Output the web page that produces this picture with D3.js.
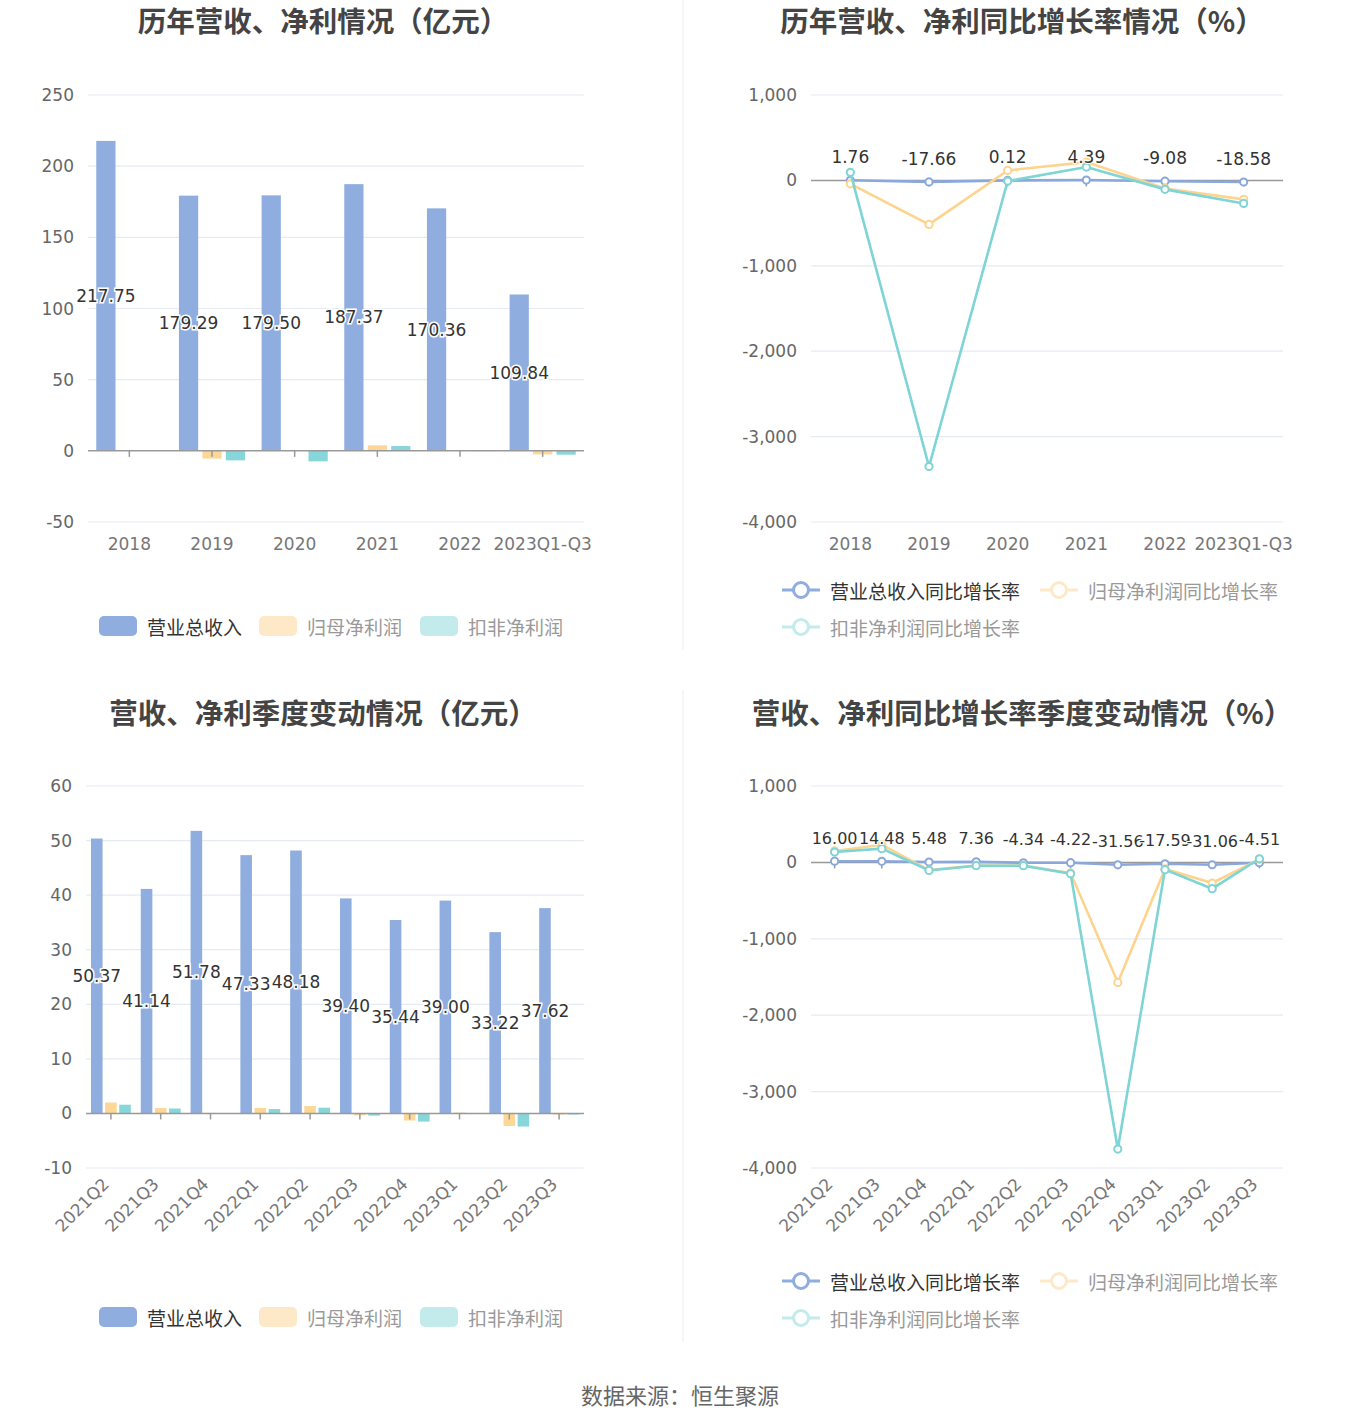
<!DOCTYPE html>
<html><head><meta charset="utf-8">
<script src="https://cdn.jsdelivr.net/npm/d3@7/dist/d3.min.js"></script>
<style>
html,body{margin:0;padding:0;background:#fff;}
text{font-family:"DejaVu Sans","Noto Sans CJK SC",sans-serif;}
text.cjk{font-family:"Noto Sans CJK SC","Noto Sans",sans-serif;}
</style></head>
<body>
<svg id="c" width="1360" height="1425"></svg>
<script>
// ---------- DATA ----------
const years = ['2018','2019','2020','2021','2022','2023Q1-Q3'];
const yearRevenue = [217.75,179.29,179.50,187.37,170.36,109.84];
const yearNetProfit = [0.5,-5.4,0.4,3.9,0.25,-2.5];
const yearDeductProfit = [0.2,-6.7,-7.4,3.4,-0.15,-2.7];

const yearRevGrowth = [1.76,-17.66,0.12,4.39,-9.08,-18.58];
const yearNetGrowth = [-40,-515,117,214,-94,-222];
const yearDeductGrowth = [94,-3350,-8,156,-105,-270];

const quarters = ['2021Q2','2021Q3','2021Q4','2022Q1','2022Q2','2022Q3','2022Q4','2023Q1','2023Q2','2023Q3'];
const qRevenue = [50.37,41.14,51.78,47.33,48.18,39.40,35.44,39.00,33.22,37.62];
const qNetProfit = [2.0,1.0,0.1,1.0,1.35,-0.35,-1.3,0.15,-2.3,-0.2];
const qDeductProfit = [1.6,0.9,0.04,0.8,1.05,-0.4,-1.5,0.05,-2.4,-0.2];

const qRevGrowth = [16.00,14.48,5.48,7.36,-4.34,-4.22,-31.56,-17.59,-31.06,-4.51];
const qNetGrowth = [150,230,-100,-40,-40,-140,-1571,-85,-270,40];
const qDeductGrowth = [136,180,-105,-43,-43,-148,-3752,-95,-344,48];

const barTicks = [-50,0,50,100,150,200,250];
const qBarTicks = [-10,0,10,20,30,40,50,60];
const growthTicks = [-4000,-3000,-2000,-1000,0,1000];

const barNames = ['营业总收入','归母净利润','扣非净利润'];
const lineNames = ['营业总收入同比增长率','归母净利润同比增长率','扣非净利润同比增长率'];
const colors = ['#8fadde','#fdd795','#87d6d9'];
const lineColors = ['#8aa8dc','#fdd48e','#7fd4d6'];
const fadedColors = ['#8fadde','#fde9c8','#c3ebec'];

// ---------- DRAW ----------
const svg = d3.select('#c');
const loc = d3.formatLocale({decimal:'.',thousands:',',grouping:[3],currency:['',''],minus:'-'});
const fmtComma = loc.format(',');
const fmtInt = loc.format('d');
const fmt2 = loc.format('.2f');

function title(txt, cx, cy){
  svg.append('text').attr('class','cjk').attr('x',cx).attr('y',cy).attr('text-anchor','middle')
    .attr('dominant-baseline','central').attr('font-size',28.5).attr('font-weight','bold')
    .attr('fill','#444').text(txt);
}

function yAxisGrid(g, y, ticks, x0, x1, fmt, labelX){
  ticks.forEach(t=>{
    if(t!==0){
      g.append('line').attr('x1',x0).attr('x2',x1).attr('y1',y(t)).attr('y2',y(t))
        .attr('stroke','#e6eaf3').attr('stroke-width',1.2);
    }
    g.append('text').attr('x',labelX).attr('y',y(t)).attr('text-anchor','end')
      .attr('dominant-baseline','central').attr('font-size',17).attr('fill','#666').text(fmt(t));
  });
}

function zeroAxis(g, x, y, cats, x0, x1){
  g.append('line').attr('x1',x0).attr('x2',x1).attr('y1',y(0)).attr('y2',y(0))
    .attr('stroke','#999').attr('stroke-width',1.5);
  cats.forEach(c=>{
    const cx = x(c)+x.bandwidth()/2;
    g.append('line').attr('x1',cx).attr('x2',cx).attr('y1',y(0)).attr('y2',y(0)+6)
      .attr('stroke','#999').attr('stroke-width',1.5);
  });
}

function xLabels(g, x, cats, ly, rotate){
  cats.forEach(c=>{
    const cx = x(c)+x.bandwidth()/2;
    if(rotate){
      g.append('text').attr('transform',`translate(${cx-5},${ly}) rotate(-45)`)
        .attr('text-anchor','end').attr('dominant-baseline','central')
        .attr('font-size',17).attr('fill','#777').text(c);
    } else {
      g.append('text').attr('x',cx).attr('y',ly).attr('text-anchor','middle')
        .attr('dominant-baseline','central').attr('font-size',17).attr('fill','#777').text(c);
    }
  });
}

function barChart(o){
  const g = svg.append('g');
  const x = d3.scaleBand().domain(o.cats).range([o.x0,o.x1]).padding(0);
  const y = d3.scaleLinear().domain(o.yDomain).range([o.yBottom,o.yTop]);
  yAxisGrid(g,y,o.ticks,o.x0,o.x1,fmtInt,o.labelX);
  const bw = x.bandwidth();
  const inner = d3.scaleBand().domain([0,1,2]).range([bw*0.1,bw*0.9]).paddingInner(0.18);
  const series = [o.rev,o.net,o.ded];
  series.forEach((vals,si)=>{
    g.selectAll(null).data(vals).enter().append('rect')
      .attr('x',(d,i)=>x(o.cats[i])+inner(si))
      .attr('width',inner.bandwidth())
      .attr('y',d=>Math.min(y(d),y(0)))
      .attr('height',d=>Math.abs(y(d)-y(0)))
      .attr('fill',colors[si]);
  });
  zeroAxis(g,x,y,o.cats,o.x0,o.x1);
  g.selectAll(null).data(o.rev).enter().append('text')
    .attr('x',(d,i)=>x(o.cats[i])+inner(0)+inner.bandwidth()/2)
    .attr('y',d=>(y(d)+y(0))/2)
    .attr('text-anchor','middle').attr('dominant-baseline','central')
    .attr('font-size',17).attr('fill','#333')
    .attr('stroke','#fff').attr('stroke-width',3).attr('paint-order','stroke')
    .text(d=>fmt2(d));
  xLabels(g,x,o.cats,o.xLabelY,o.rotate);
  const lx = [99,259,420];
  barNames.forEach((n,i)=>{
    g.append('rect').attr('x',lx[i]).attr('y',o.legendY-10).attr('width',38).attr('height',20)
      .attr('rx',5).attr('fill',fadedColors[i]);
    g.append('text').attr('class','cjk').attr('x',lx[i]+48).attr('y',o.legendY).attr('dominant-baseline','central')
      .attr('font-size',19).attr('fill',i===0?'#333':'#999').text(n);
  });
}

function lineChart(o){
  const g = svg.append('g');
  const x = d3.scaleBand().domain(o.cats).range([o.x0,o.x1]).padding(0);
  const y = d3.scaleLinear().domain([-4000,1000]).range([o.yBottom,o.yTop]);
  yAxisGrid(g,y,growthTicks,o.x0,o.x1,fmtComma,o.labelX);
  zeroAxis(g,x,y,o.cats,o.x0,o.x1);
  const cx = i=>x(o.cats[i])+x.bandwidth()/2;
  const series = [o.rev,o.net,o.ded];
  series.forEach((vals,si)=>{
    const line = d3.line().x((d,i)=>cx(i)).y(d=>y(d));
    g.append('path').datum(vals).attr('d',line).attr('fill','none')
      .attr('stroke',lineColors[si]).attr('stroke-width',2.6);
    g.selectAll(null).data(vals).enter().append('circle')
      .attr('cx',(d,i)=>cx(i)).attr('cy',d=>y(d)).attr('r',3.6)
      .attr('fill','#fff').attr('stroke',lineColors[si]).attr('stroke-width',2);
  });
  g.selectAll(null).data(o.rev).enter().append('text')
    .attr('x',(d,i)=>cx(i)).attr('y',d=>y(d)-23)
    .attr('text-anchor','middle').attr('dominant-baseline','central')
    .attr('font-size',o.labelSize).attr('fill','#333')
    .attr('stroke','#fff').attr('stroke-width',2).attr('paint-order','stroke')
    .text(d=>fmt2(d));
  xLabels(g,x,o.cats,o.xLabelY,o.rotate);
  const pos = [[782,o.legendY],[1040,o.legendY],[782,o.legendY+37]];
  lineNames.forEach((n,i)=>{
    const [lx,ly] = pos[i];
    g.append('line').attr('x1',lx).attr('x2',lx+38).attr('y1',ly).attr('y2',ly)
      .attr('stroke',fadedColors[i]).attr('stroke-width',3);
    g.append('circle').attr('cx',lx+19).attr('cy',ly).attr('r',7.5)
      .attr('fill','#fff').attr('stroke',fadedColors[i]).attr('stroke-width',3);
    g.append('text').attr('class','cjk').attr('x',lx+48).attr('y',ly).attr('dominant-baseline','central')
      .attr('font-size',19).attr('fill',i===0?'#333':'#999').text(n);
  });
}

svg.append('line').attr('x1',683).attr('x2',683).attr('y1',0).attr('y2',650).attr('stroke','#eee').attr('stroke-width',1);
svg.append('line').attr('x1',683).attr('x2',683).attr('y1',690).attr('y2',1342).attr('stroke','#eee').attr('stroke-width',1);

title('历年营收、净利情况（亿元）',323,19);
title('历年营收、净利同比增长率情况（%）',1022,19);
title('营收、净利季度变动情况（亿元）',323,711);
title('营收、净利同比增长率季度变动情况（%）',1022,711);

barChart({cats:years,rev:yearRevenue,net:yearNetProfit,ded:yearDeductProfit,
  x0:88,x1:584,yTop:95,yBottom:522,yDomain:[-50,250],ticks:barTicks,labelX:74,
  xLabelY:544,rotate:false,legendY:626});
barChart({cats:quarters,rev:qRevenue,net:qNetProfit,ded:qDeductProfit,
  x0:86,x1:584,yTop:786,yBottom:1168,yDomain:[-10,60],ticks:qBarTicks,labelX:72,
  xLabelY:1181,rotate:true,legendY:1317});
lineChart({cats:years,rev:yearRevGrowth,net:yearNetGrowth,ded:yearDeductGrowth,
  x0:811,x1:1283,yTop:95,yBottom:522,labelX:797,xLabelY:544,rotate:false,legendY:590,labelSize:17});
lineChart({cats:quarters,rev:qRevGrowth,net:qNetGrowth,ded:qDeductGrowth,
  x0:811,x1:1283,yTop:786,yBottom:1168,labelX:797,xLabelY:1181,rotate:true,legendY:1281,labelSize:16});

svg.append('text').attr('class','cjk').attr('x',680).attr('y',1394).attr('text-anchor','middle')
  .attr('dominant-baseline','central').attr('font-size',22).attr('fill','#666').text('数据来源：恒生聚源');
</script>
</body></html>
